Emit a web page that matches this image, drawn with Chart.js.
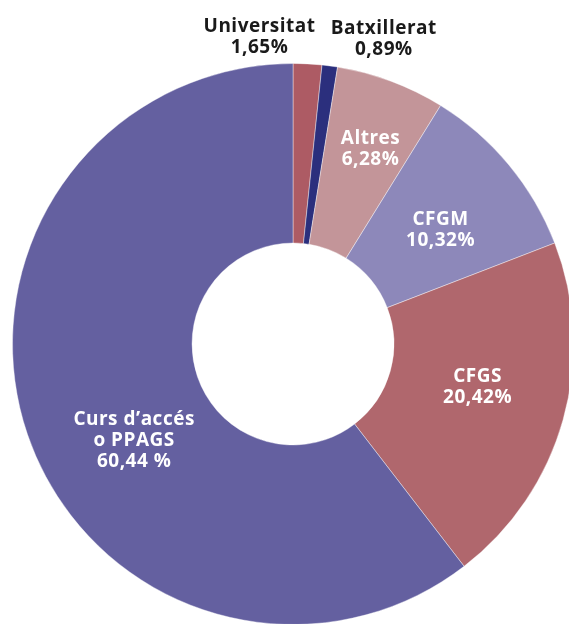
<!DOCTYPE html>
<html>
<head>
<meta charset="utf-8">
<script src="https://cdn.jsdelivr.net/npm/chart.js@4/dist/chart.umd.min.js"></script>
<style>
  html, body { margin: 0; padding: 0; background: #fff; overflow: hidden; }
  #wrap { position: absolute; left: 0; top: 0; width: 600px; height: 626px; }
</style>
</head>
<body>
<div id="wrap"><canvas id="chart"></canvas></div>
<script>
// dades
const categories = ['Universitat', 'Batxillerat', 'Altres', 'CFGM', 'CFGS', 'Curs d\u2019accés o PPAGS'];
const labelLines = [['Universitat'], ['Batxillerat'], ['Altres'], ['CFGM'], ['CFGS'], ['Curs d\u2019accés', 'o PPAGS']];
const percentages = [1.65, 0.89, 6.28, 10.32, 20.42, 60.44];
const percentText = ['1,65%', '0,89%', '6,28%', '10,32%', '20,42%', '60,44 %'];

const colors = ['#ad5b64', '#2b2f7d', '#c39599', '#8d88ba', '#b0676d', '#6460a0'];

// where each label sits: fraction of outer radius along mid-angle, plus nudge
const labelPlace = [
    { r: 1.0, dx: -48, dy: -27, color: '#1a1a1a' },
    { r: 1.0, dx: 54, dy: -27, color: '#1a1a1a' },
    { r: 0.75, dx: 4, dy: 2, color: '#fff' },
    { r: 0.665, dx: 4, dy: 5, color: '#fff' },
    { r: 0.676, dx: 2, dy: -8, color: '#fff' },
    { r: 0.70, dx: 27, dy: 33, color: '#fff' }
];

const sliceLabels = {
    id: 'sliceLabels',
    afterDatasetsDraw(chart) {
        const ctx = chart.ctx;
        const arcs = chart.getDatasetMeta(0).data;
        ctx.save();
        ctx.font = 'bold 19px "Open Sans", sans-serif';
        ctx.textAlign = 'center';
        ctx.textBaseline = 'middle';
        if ('letterSpacing' in ctx) ctx.letterSpacing = '0.5px';
        arcs.forEach((arc, i) => {
            const p = labelPlace[i];
            const a = (arc.startAngle + arc.endAngle) / 2;
            const x = arc.x + Math.cos(a) * arc.outerRadius * p.r + p.dx;
            const y = arc.y + Math.sin(a) * arc.outerRadius * p.r + p.dy;
            const lines = labelLines[i].concat([percentText[i]]);
            const lh = 21;
            const top = y - (lines.length - 1) * lh / 2;
            ctx.fillStyle = p.color;
            lines.forEach((t, k) => ctx.fillText(t, x, top + k * lh));
        });
        ctx.restore();
    }
};

new Chart(document.getElementById('chart'), {
    type: 'doughnut',
    data: {
        labels: categories,
        datasets: [{
            data: percentages,
            backgroundColor: colors,
            borderColor: 'rgba(255,255,255,0.4)',
            borderWidth: 1
        }]
    },
    options: {
        responsive: true,
        maintainAspectRatio: false,
        animation: false,
        cutout: '36%',
        layout: { padding: { top: 63, left: 12, right: 26, bottom: 1 } },
        plugins: {
            legend: { display: false },
            tooltip: { enabled: false }
        }
    },
    plugins: [sliceLabels]
});
</script>
</body>
</html>
